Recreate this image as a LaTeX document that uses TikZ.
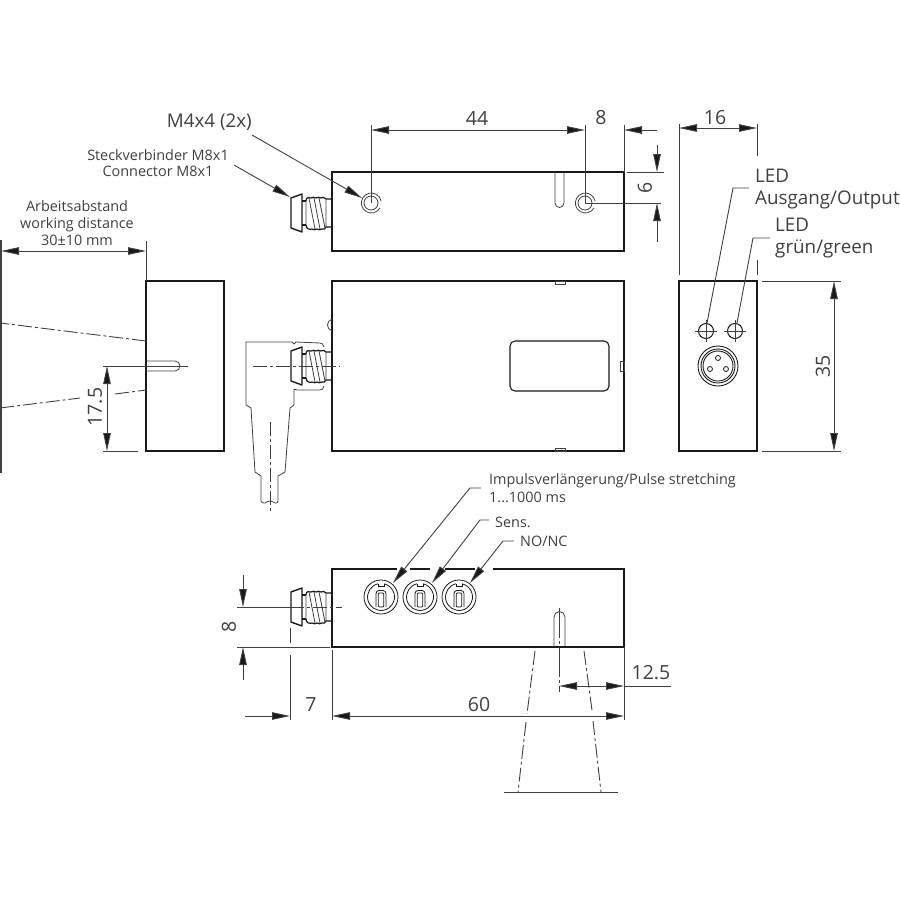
\documentclass[tikz,border=0pt]{standalone}
\usepackage{fontspec}
\setmainfont{Open Sans}
\usetikzlibrary{arrows.meta}
\definecolor{ink}{gray}{0.1}
\definecolor{dimc}{gray}{0.25}
\tikzset{
  outline/.style={draw=ink,line width=2pt,line join=miter},
  thinline/.style={draw=dimc,line width=0.9pt},
  fineline/.style={draw=dimc,line width=0.8pt},
  centre/.style={draw=dimc,line width=0.9pt,dash pattern=on 14pt off 3pt on 3pt off 3pt},
  dimarrow/.style={thinline,-{Triangle[length=18pt,width=7.5pt,fill=ink]}},
  dimboth/.style={thinline,{Triangle[length=18pt,width=7.5pt,fill=ink]}-{Triangle[length=18pt,width=7.5pt,fill=ink]}},
  lbl/.style={inner sep=0pt,text=dimc,font=\fontsize{14.4}{17.5}\selectfont},
  lblb/.style={inner sep=0pt,text=dimc,font=\fontsize{18.8}{22.5}\selectfont},
  num/.style={inner sep=0pt,text=dimc,font=\fontsize{19.5}{22}\selectfont},
  device/.style={outline,fill=none,inner sep=0pt,outer sep=0pt},
}
\newcommand{\mconn}[1]{%
  \begin{scope}[shift={(0,#1)}]
    \draw[draw=ink,line width=1.4pt,line join=round] (291,-15)--(291,15)--(302,19)--(302,-19)--cycle;
    \draw[draw=ink,line width=1.2pt] (302,-12)--(306,-12) (302,12)--(306,12);
    \draw[draw=ink,line width=1.2pt] (306,-12) .. controls (306,-16) and (309,-16) .. (311,-15)
      .. controls (312,-16) and (315,-16) .. (316,-15) .. controls (317,-16) and (320,-16) .. (321,-15)
      .. controls (322,-16) and (325,-16) .. (326,-14)--(332,-14);
    \draw[draw=ink,line width=1.2pt] (306,12) .. controls (306,16) and (310,17) .. (312,16)
      .. controls (313,17) and (316,17) .. (317,16) .. controls (318,17) and (321,17) .. (322,16)
      .. controls (323,17) and (326,16) .. (326,14)--(332,14);
    \draw[fineline] (306,-12)--(306,12) (326,-14)--(326,14) (309,-15)--(315,16) (314,-15)--(320,16) (319,-15)--(325,15);
  \end{scope}}
\newcommand{\pot}[1]{%
  \begin{scope}[shift={(#1,597)}]
    \draw[fineline,draw=ink] (0,0) circle (17);
    \draw[fineline,draw=ink] (-3,-13.2) arc (257:-77:13.5);
    \draw[fineline,draw=ink] (-3,-13.2)--(-3,-10.5)--(3,-10.5)--(3,-13.2);
    \draw[fineline,draw=ink,rounded corners=3pt] (-5,10)--(-5,-6.5)--(5,-6.5)--(5,10);
    \draw[fineline,draw=ink,rounded corners=1pt] (-2.8,10)--(-2.8,-4)--(2.8,-4)--(2.8,10)--cycle;
  \end{scope}}
\begin{document}
\begin{tikzpicture}[x=1pt,y=-1pt]
\useasboundingbox (0,0) rectangle (900,900);
% device bodies
\node[device,minimum width=292pt,minimum height=79pt,draw,anchor=north west] (topbox) at (332,172) {};
\node[device,minimum width=292pt,minimum height=170pt,draw,anchor=north west] (midbox) at (332,281) {};
\node[device,minimum width=78pt,minimum height=170pt,draw,anchor=north west] (sidebox) at (146,281) {};
\node[device,minimum width=78pt,minimum height=170pt,draw,anchor=north west] (endbox) at (679,281) {};
% bottom box, top edge broken for leaders
\draw[outline] (397,569)--(332,569)--(332,647)--(624,647)--(624,569)--(493,569);
\draw[outline] (410,569)--(430,569) (445,569)--(475,569);
% connectors
\mconn{213}\mconn{366}\mconn{607}
% top view details
\draw[fineline] (555,172)--(555,203) arc (180:0:4.5) -- (564,172);
\coordinate (holeA) at (371,203);
\coordinate (holeB) at (585,203);
\foreach \h in {holeA,holeB}{
  \draw[fineline] (\h) ++(9,5) arc (30:350:10);
  \draw[fineline] (\h) circle (7);
}
% middle view details
\draw[draw=ink,line width=1.1pt,rounded corners=5pt] (510,341) rectangle (609,391);
\draw[fineline] (555,281) rectangle (565,284) (555,448) rectangle (565,451) (620,361) rectangle (624,371);
\draw[fineline] (332,319) .. controls (326,321) and (326,329) .. (332,331);
% angled cable
\draw[fineline] (324,347) .. controls (323,344) and (322,343) .. (320,343) -- (296,342) -- (294,344) -- (292,342) -- (246,342)
  -- (246,405) -- (251,408) -- (255,472) -- (261,476) -- (261,501) .. controls (261,503) and (263,503) .. (265,503)
  .. controls (267,502) and (268,501) .. (270,501) .. controls (272,501) and (273,502) .. (275,503)
  .. controls (277,503) and (278,503) .. (278,501) -- (278,476) -- (285,472) -- (290,408) -- (294,405) -- (294,389)
  -- (297,390) -- (320,390) .. controls (322,390) and (323,389) .. (324,386);
\draw[centre] (253,366)--(340,366);
\draw[centre] (270,422)--(270,511);
% side box details
\draw[fineline] (146,361)--(175,361) arc (-90:90:5) -- (146,371);
\draw[thinline] (146,366)--(188,366);
\draw[centre] (146,341)--(0,323);
\draw[centre] (0,408)--(80,398);
\draw[centre] (115,394)--(146,390);
% end box details
\coordinate (ledA) at (706,331);
\coordinate (ledB) at (735,331);
\coordinate (plug) at (718,366);
\foreach \h in {ledA,ledB}{
  \draw[draw=ink,line width=1pt] (\h) circle (7.5);
  \draw[fineline] (\h) ++(-11,0) -- ++(22,0) (\h) ++(0,-11) -- ++(0,22);
}
\draw[draw=ink,line width=0.9pt] (plug) circle (20) (plug) circle (17) (plug) circle (15);
\draw[draw=ink,line width=0.8pt] (plug) ++(0,-8) circle (2.5) (plug) ++(-8,3) circle (2.5) (plug) ++(8,3) circle (2.5);
% bottom box details
\pot{381}\pot{420}\pot{459}
\draw[fineline] (554,647)--(554,617) arc (180:360:5.5)--(565,647);
% beam
\coordinate (beamL) at (535,651);
\coordinate (beamR) at (584,651);
\coordinate (beamLb) at (518,792);
\coordinate (beamRb) at (601,792);
\draw[centre] (beamL)--(527,714);
\draw[centre] (526,722)--(beamLb);
\draw[centre] (beamR)--(592,710);
\draw[centre] (593,721)--(beamRb);
\draw[thinline] (504,792)--(618,792);
% dimension: working distance
\coordinate (wdL) at (1,251);
\coordinate (wdR) at (146,251);
\draw[thinline,line width=1.1pt] (1,240)--(1,473);
\draw[thinline] (146,241)--(146,281);
\draw[dimboth] (wdL)--(wdR);
\node[lbl,align=center] (wdtxt) at (77,223) {Arbeitsabstand\\[-.5pt]working distance\\[-.5pt]30±10 mm};
% 17.5
\coordinate (s1) at (107,366);
\coordinate (s2) at (107,451);
\draw[thinline] (103,366)--(146,366) (103,451)--(138,451);
\draw[dimboth] (s1)--(s2);
\node[num,rotate=90] (n175) at (95,407) {17.5};
% 44 and 8
\coordinate (d44a) at (371,130);
\coordinate (d44b) at (585,130);
\coordinate (d8b) at (624,130);
\coordinate (d8e) at (657,130);
\draw[thinline] (371,125)--(holeA) (585,125)--(holeB) (624,125)--(624,172);
\draw[dimboth] (d44a)--(d44b);
\draw[dimarrow] (d8e)--(d8b);
\node[num] (n44) at (477,118) {44};
\node[num] (n8) at (601,118) {8};
% 6
\coordinate (d6a) at (657,172);
\coordinate (d6b) at (657,203);
\draw[thinline] (627,172)--(664,172);
\draw[thinline] (holeB)--(661,203);
\draw[dimarrow] (657,145)--(d6a);
\draw[dimarrow] (657,242)--(d6b);
\node[num,rotate=90] (n6) at (645,188) {6};
% 16
\coordinate (d16a) at (679,128);
\coordinate (d16b) at (757,128);
\draw[thinline] (679,124)--(679,275) (757,124)--(757,156) (757,260)--(757,275);
\draw[dimboth] (d16a)--(d16b);
\node[num] (n16) at (715,118) {16};
% 35
\coordinate (d35a) at (834,281);
\coordinate (d35b) at (834,451);
\draw[thinline] (762,281)--(841,281) (762,451)--(841,451);
\draw[dimboth] (d35a)--(d35b);
\node[num,rotate=90] (n35) at (823,366) {35};
% 8 at bottom connector
\coordinate (e8a) at (243,607);
\coordinate (e8b) at (243,647);
\draw[thinline] (237,607)--(290,607) (237,647)--(330,647);
\draw[centre] (290,607)--(342,607);
\draw[dimarrow] (243,575)--(e8a);
\draw[dimarrow] (243,680)--(e8b);
\node[num,rotate=90] (n8b) at (229,627) {8};
% 7 and 60
\coordinate (d7a) at (290,716);
\coordinate (d60a) at (332,716);
\coordinate (d60b) at (624,716);
\draw[thinline] (290,628)--(290,643) (290,655)--(290,720);
\draw[thinline] (332,650)--(332,720);
\draw[thinline] (624,647)--(624,720);
\draw[dimarrow] (245,716)--(d7a);
\draw[dimboth] (d60a)--(d60b);
\node[num] (n7) at (311,705) {7};
\node[num] (n60) at (479,705) {60};
% 12.5
\coordinate (t1) at (559,686);
\coordinate (t2) at (624,686);
\draw[centre,dash pattern=on 30pt off 3pt on 3pt off 3pt] (559,608)--(559,692);
\draw[dimboth] (t1)--(t2);
\draw[thinline] (624,686)--(671,686);
\node[num] (n125) at (651,673) {12.5};
% labels with leaders
\node[lblb,anchor=east] (m4) at (252,122) {M4x4 (2x)};
\node[lbl,align=center] (stecker) at (158,163) {Steckverbinder M8x1\\[-1.5pt]Connector M8x1};
\coordinate (m4s) at (252,135);
\coordinate (m4e) at (362,198);
\draw[dimarrow] (m4s)--(m4e);
\coordinate (sts) at (234,165);
\coordinate (ste) at (290,197);
\draw[dimarrow] (sts)--(ste);
\node[lblb,align=left,anchor=north west] (ledout) at (755,168.5) {LED\\[0pt]Ausgang/Output};
\node[lblb,align=left,anchor=north west] (ledgr) at (775,217.5) {LED\\[0pt]grün/green};
\draw[thinline] (749,188)--(733,188)--(707,323);
\draw[thinline] (770,238)--(753,238)--(737,323);
\node[lbl,align=left,anchor=north west] (imp) at (489,473) {Impulsverlängerung/Pulse stretching\\[.5pt]1...1000 ms};
\node[lbl,anchor=west] (sens) at (495,522) {Sens.};
\node[lbl,anchor=west] (nonc) at (520,541) {NO/NC};
\draw[dimarrow] (481,488)--(470,488)--(393,583);
\draw[dimarrow] (489,520)--(480,520)--(432,583);
\draw[dimarrow] (514,541)--(503,541)--(470,583);
\end{tikzpicture}
\end{document}
